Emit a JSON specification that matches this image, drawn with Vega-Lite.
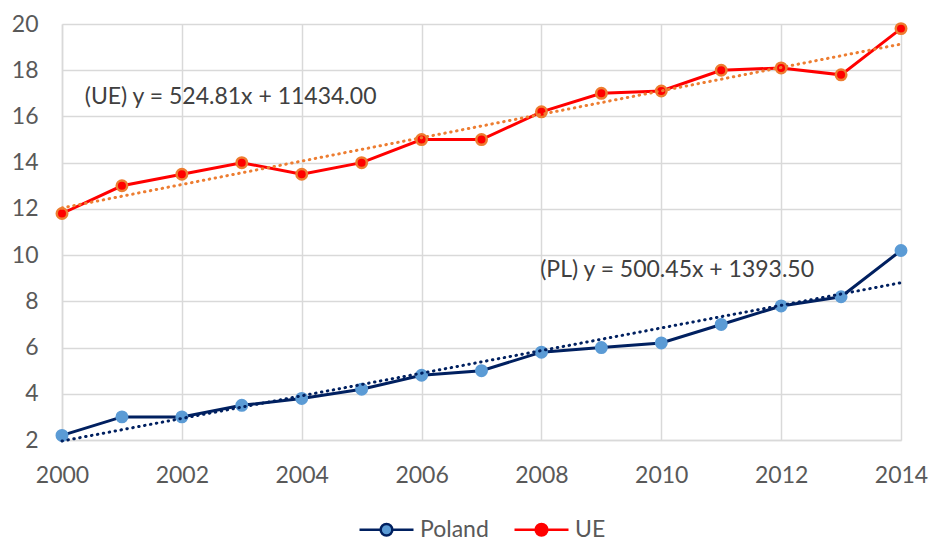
{
  "$schema": "https://vega.github.io/schema/vega-lite/v6.json",
  "width": 839,
  "height": 416,
  "autosize": {"type": "none"},
  "padding": {"left": 62, "top": 24, "right": 30, "bottom": 102},
  "config": {
    "font": "Lato",
    "view": {"stroke": null},
    "axis": {
      "gridColor": "#D9D9D9",
      "gridWidth": 1.5,
      "domainColor": "#D9D9D9",
      "domainWidth": 1.5,
      "ticks": false,
      "labelFontSize": 23,
      "labelColor": "#595959",
      "labelFlush": false,
      "title": null
    }
  },
  "datasets": {
    "series": [
      {"year": 2000, "series": "Poland", "value": 2.2},
      {"year": 2001, "series": "Poland", "value": 3.0},
      {"year": 2002, "series": "Poland", "value": 3.0},
      {"year": 2003, "series": "Poland", "value": 3.5},
      {"year": 2004, "series": "Poland", "value": 3.8},
      {"year": 2005, "series": "Poland", "value": 4.2},
      {"year": 2006, "series": "Poland", "value": 4.8},
      {"year": 2007, "series": "Poland", "value": 5.0},
      {"year": 2008, "series": "Poland", "value": 5.8},
      {"year": 2009, "series": "Poland", "value": 6.0},
      {"year": 2010, "series": "Poland", "value": 6.2},
      {"year": 2011, "series": "Poland", "value": 7.0},
      {"year": 2012, "series": "Poland", "value": 7.8},
      {"year": 2013, "series": "Poland", "value": 8.2},
      {"year": 2014, "series": "Poland", "value": 10.2},
      {"year": 2000, "series": "UE", "value": 11.8},
      {"year": 2001, "series": "UE", "value": 13.0},
      {"year": 2002, "series": "UE", "value": 13.5},
      {"year": 2003, "series": "UE", "value": 14.0},
      {"year": 2004, "series": "UE", "value": 13.5},
      {"year": 2005, "series": "UE", "value": 14.0},
      {"year": 2006, "series": "UE", "value": 15.0},
      {"year": 2007, "series": "UE", "value": 15.0},
      {"year": 2008, "series": "UE", "value": 16.2},
      {"year": 2009, "series": "UE", "value": 17.0},
      {"year": 2010, "series": "UE", "value": 17.1},
      {"year": 2011, "series": "UE", "value": 18.0},
      {"year": 2012, "series": "UE", "value": 18.1},
      {"year": 2013, "series": "UE", "value": 17.8},
      {"year": 2014, "series": "UE", "value": 19.8}
    ],
    "notes": [
      {"year": 2000.38, "value": 16.85, "label": "(UE) y = 524.81x + 11434.00"},
      {"year": 2007.98, "value": 9.37, "label": "(PL) y = 500.45x + 1393.50"}
    ]
  },
  "layer": [
    {
      "data": {"name": "series"},
      "mark": {"type": "line", "strokeWidth": 3},
      "encoding": {
        "x": {
          "field": "year", "type": "quantitative",
          "scale": {"domain": [2000, 2014], "nice": false, "zero": false},
          "axis": {"values": [2000, 2002, 2004, 2006, 2008, 2010, 2012, 2014], "format": "d", "labelPadding": 24, "grid": true}
        },
        "y": {
          "field": "value", "type": "quantitative",
          "scale": {"domain": [2, 20], "nice": false, "zero": false},
          "axis": {"values": [2, 4, 6, 8, 10, 12, 14, 16, 18, 20], "labelPadding": 24, "grid": true}
        },
        "color": {
          "field": "series", "type": "nominal",
          "scale": {"domain": ["Poland", "UE"], "range": ["#002060", "#FF0000"]},
          "legend": {
            "orient": "none",
            "legendX": 313,
            "legendY": 494,
            "direction": "horizontal",
            "title": null,
            "symbolType": "M-3,0L-0.65,0M0.65,0L3,0M-0.65,0A0.65,0.65 0 1,0 0.65,0A0.65,0.65 0 1,0 -0.65,0Z",
            "symbolSize": 324,
            "symbolStrokeWidth": 2.5,
            "labelFontSize": 23,
            "labelColor": "#595959",
            "labelOffset": 22,
            "columnPadding": 20,
            "encode": {
              "symbols": {
                "update": {
                  "fill": {"signal": "datum.value === 'Poland' ? '#5B9BD5' : '#FF0000'"},
                  "fillOpacity": {"value": 1}
                }
              }
            }
          }
        }
      }
    },
    {
      "data": {"name": "series"},
      "mark": {"type": "point", "filled": true, "opacity": 1},
      "encoding": {
        "x": {"field": "year", "type": "quantitative"},
        "y": {"field": "value", "type": "quantitative"},
        "fill": {"condition": {"test": "datum.series === 'UE'", "value": "#FF0000"}, "value": "#5B9BD5"},
        "stroke": {"condition": {"test": "datum.series === 'UE'", "value": "#ED7D31"}, "value": "#5B9BD5"},
        "strokeWidth": {"condition": {"test": "datum.series === 'UE'", "value": 2.5}, "value": 0},
        "size": {"condition": {"test": "datum.series === 'UE'", "value": 110}, "value": 168}
      }
    },
    {
      "data": {"name": "series"},
      "transform": [{"regression": "value", "on": "year", "groupby": ["series"]}],
      "mark": {"type": "line", "strokeWidth": 3, "strokeDash": [0.5, 5.5], "strokeCap": "round"},
      "encoding": {
        "x": {"field": "year", "type": "quantitative"},
        "y": {"field": "value", "type": "quantitative"},
        "detail": {"field": "series", "type": "nominal"},
        "stroke": {"condition": {"test": "datum.series === 'UE'", "value": "#ED7D31"}, "value": "#002060"}
      }
    },
    {
      "data": {"name": "notes"},
      "mark": {"type": "text", "align": "left", "baseline": "middle", "fontSize": 23, "color": "#404040"},
      "encoding": {
        "x": {"field": "year", "type": "quantitative"},
        "y": {"field": "value", "type": "quantitative"},
        "text": {"field": "label"}
      }
    }
  ]
}
